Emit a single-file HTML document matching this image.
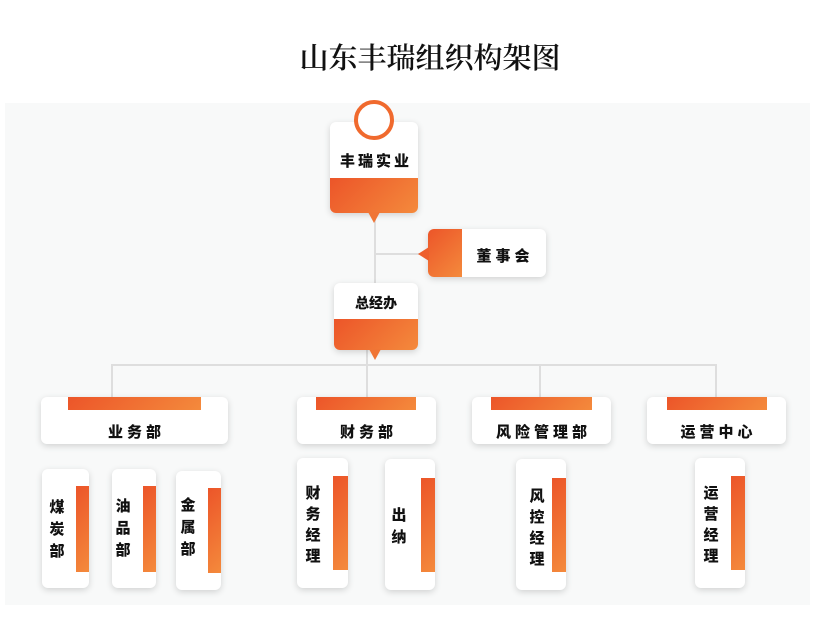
<!DOCTYPE html>
<html><head><meta charset="utf-8">
<style>
*{margin:0;padding:0;box-sizing:border-box}
body{width:816px;height:620px;background:#fff;position:relative;overflow:hidden;font-family:"Liberation Sans","Noto Sans CJK SC",sans-serif}
.abs{position:absolute}
.bg{left:5px;top:103px;width:805px;height:502px;background:#f8f9f9}
.title{left:0;width:860px;top:36px;text-align:center;font-family:"Noto Serif CJK SC","Noto Serif CJK JP",serif;font-size:29px;font-weight:600;color:#111}
.card{position:absolute;background:#fff;border-radius:6px;box-shadow:0 2px 7px rgba(0,0,0,0.16);overflow:hidden}
.og{background:linear-gradient(135deg,#ec5529 0%,#f48a3c 100%)}
.line{position:absolute;background:#dedede}
.t{position:absolute;font-weight:900;color:#111;font-size:15px;white-space:nowrap;text-align:center}
.v{position:absolute;font-weight:900;color:#111;font-size:15px;line-height:22px;width:20px;text-align:center}
.tri{position:absolute;width:0;height:0}
</style></head><body>
<div class="abs title">山东丰瑞组织构架图</div>
<div class="abs bg"></div>

<!-- connectors -->
<div class="line" style="left:374px;top:218px;width:2px;height:70px"></div>
<div class="line" style="left:374px;top:253px;width:46px;height:2px"></div>
<div class="line" style="left:112px;top:364px;width:605px;height:2px"></div>
<div class="line" style="left:111px;top:364px;width:2px;height:34px"></div>
<div class="line" style="left:366px;top:350px;width:2px;height:48px"></div>
<div class="line" style="left:539px;top:364px;width:2px;height:34px"></div>
<div class="line" style="left:715px;top:364px;width:2px;height:34px"></div>

<!-- top node -->
<div class="card" style="left:330px;top:122px;width:88px;height:91px">
  <div class="og" style="position:absolute;left:0;top:56px;width:88px;height:35px"></div>
</div>
<div class="tri" style="left:368px;top:212px;border-left:6px solid transparent;border-right:6px solid transparent;border-top:11px solid #f07535"></div>
<div class="abs" style="left:354px;top:100px;width:40px;height:40px;border-radius:50%;background:#fff;border:4px solid #f06a2e"></div>
<div class="t" style="left:330px;top:150px;width:92px;letter-spacing:3px;font-size:15px">丰瑞实业</div>

<!-- 董事会 -->
<div class="card" style="left:428px;top:229px;width:118px;height:48px">
  <div class="og" style="position:absolute;left:0;top:0;width:34px;height:48px"></div>
</div>
<div class="tri" style="left:418px;top:247px;border-top:7px solid transparent;border-bottom:7px solid transparent;border-right:11px solid #ee5f2d"></div>
<div class="t" style="left:462px;top:245px;width:86px;letter-spacing:4px">董事会</div>

<!-- 总经办 -->
<div class="card" style="left:334px;top:283px;width:84px;height:67px">
  <div class="og" style="position:absolute;left:0;top:36px;width:84px;height:31px"></div>
</div>
<div class="tri" style="left:369px;top:349px;border-left:6px solid transparent;border-right:6px solid transparent;border-top:11px solid #f07535"></div>
<div class="t" style="left:334px;top:293px;width:84px;font-size:14px">总经办</div>

<!-- dept boxes -->
<div class="card" style="left:41px;top:397px;width:187px;height:47px"><div class="og" style="position:absolute;left:27px;top:0;width:133px;height:13px"></div></div>
<div class="t" style="left:41px;top:421px;width:191px;letter-spacing:4px">业务部</div>

<div class="card" style="left:297px;top:397px;width:139px;height:47px"><div class="og" style="position:absolute;left:19px;top:0;width:100px;height:13px"></div></div>
<div class="t" style="left:297px;top:421px;width:143px;letter-spacing:4px">财务部</div>

<div class="card" style="left:472px;top:397px;width:139px;height:47px"><div class="og" style="position:absolute;left:19px;top:0;width:101px;height:13px"></div></div>
<div class="t" style="left:472px;top:421px;width:143px;letter-spacing:4px">风险管理部</div>

<div class="card" style="left:647px;top:397px;width:139px;height:47px"><div class="og" style="position:absolute;left:20px;top:0;width:100px;height:13px"></div></div>
<div class="t" style="left:647px;top:421px;width:143px;letter-spacing:4px">运营中心</div>

<!-- sub cards -->
<div class="card" style="left:42px;top:469px;width:47px;height:119px"><div class="og" style="position:absolute;left:34px;top:17px;width:13px;height:86px"></div></div>
<div class="v" style="left:47px;top:497px">煤炭部</div>

<div class="card" style="left:112px;top:469px;width:44px;height:119px"><div class="og" style="position:absolute;left:31px;top:17px;width:13px;height:86px"></div></div>
<div class="v" style="left:113px;top:496px">油品部</div>

<div class="card" style="left:176px;top:471px;width:45px;height:119px"><div class="og" style="position:absolute;left:32px;top:17px;width:13px;height:85px"></div></div>
<div class="v" style="left:178px;top:495px">金属部</div>

<div class="card" style="left:297px;top:458px;width:51px;height:130px"><div class="og" style="position:absolute;left:36px;top:18px;width:15px;height:94px"></div></div>
<div class="v" style="left:303px;top:483px;line-height:21px">财务经理</div>

<div class="card" style="left:385px;top:459px;width:50px;height:131px"><div class="og" style="position:absolute;left:36px;top:19px;width:14px;height:94px"></div></div>
<div class="v" style="left:389px;top:505px">出纳</div>

<div class="card" style="left:516px;top:459px;width:50px;height:131px"><div class="og" style="position:absolute;left:36px;top:19px;width:14px;height:94px"></div></div>
<div class="v" style="left:527px;top:486px;line-height:21px">风控经理</div>

<div class="card" style="left:695px;top:458px;width:50px;height:130px"><div class="og" style="position:absolute;left:36px;top:18px;width:14px;height:94px"></div></div>
<div class="v" style="left:701px;top:483px;line-height:21px">运营经理</div>

</body></html>
